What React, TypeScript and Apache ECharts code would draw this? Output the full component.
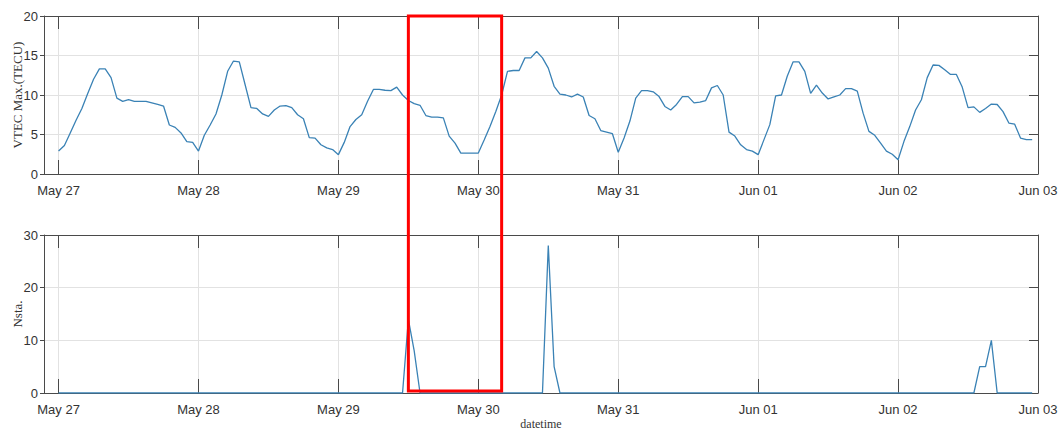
import React, { useEffect, useRef } from "react";
import * as echarts from "echarts";

// Tick labels (one per day, midnight)
const tickLabels = ["May 27", "May 28", "May 29", "May 30", "May 31", "Jun 01", "Jun 02", "Jun 03"];
const hoursPerDay = 24;
const axisStartHour = -2.5;
const axisEndHour = 168;

// Hourly maximum VTEC (TECU), starting May 27 00:00
const vtecMax = [
  2.9, 3.6, 5.2, 6.8, 8.3, 10.2, 12.0, 13.3, 13.3, 12.2, 9.6, 9.2, 9.4, 9.2, 9.2, 9.2, 9.0, 8.8, 8.6, 6.2, 5.9, 5.2, 4.1, 4.0,
  2.9, 4.9, 6.2, 7.6, 10.0, 13.0, 14.3, 14.2, 11.3, 8.4, 8.3, 7.6, 7.3, 8.1, 8.6, 8.65, 8.4, 7.5, 7.0, 4.6, 4.55, 3.7, 3.3, 3.1,
  2.45, 4.0, 6.0, 6.9, 7.5, 9.2, 10.7, 10.7, 10.6, 10.55, 11.0, 10.0, 9.3, 8.9, 8.7, 7.4, 7.2, 7.2, 7.1, 4.8, 3.9, 2.65, 2.65, 2.65,
  2.65, 4.3, 6.0, 7.9, 10.0, 13.0, 13.1, 13.1, 14.7, 14.7, 15.5, 14.7, 13.4, 11.1, 10.1, 10.0, 9.75, 10.1, 9.75, 7.4, 7.0, 5.5, 5.3, 5.1,
  2.75, 4.55, 6.7, 9.6, 10.55, 10.55, 10.4, 9.8, 8.55, 8.1, 8.8, 9.8, 9.8, 9.0, 9.1, 9.3, 10.9, 11.2, 10.0, 5.3, 4.8, 3.7, 3.1, 2.9,
  2.45, 4.35, 6.25, 9.9, 10.0, 12.4, 14.2, 14.2, 13.0, 10.2, 11.25, 10.25, 9.5, 9.75, 10.0, 10.8, 10.8, 10.5, 7.7, 5.4, 4.9, 3.9, 2.9, 2.5,
  1.8, 4.1, 6.0, 8.1, 9.4, 12.2, 13.8, 13.75, 13.2, 12.6, 12.6, 11.0, 8.4, 8.5, 7.8, 8.3, 8.85, 8.8, 7.9, 6.45, 6.3, 4.55, 4.35, 4.35,
];

// Hourly number of stations
const nsta = [
  0, 0, 0, 0, 0, 0, 0, 0, 0, 0, 0, 0, 0, 0, 0, 0, 0, 0, 0, 0, 0, 0, 0, 0,
  0, 0, 0, 0, 0, 0, 0, 0, 0, 0, 0, 0, 0, 0, 0, 0, 0, 0, 0, 0, 0, 0, 0, 0,
  0, 0, 0, 0, 0, 0, 0, 0, 0, 0, 0, 0, 14, 8, 0, 0, 0, 0, 0, 0, 0, 0, 0, 0,
  0, 0, 0, 0, 0, 0, 0, 0, 0, 0, 0, 0, 28, 5, 0, 0, 0, 0, 0, 0, 0, 0, 0, 0,
  0, 0, 0, 0, 0, 0, 0, 0, 0, 0, 0, 0, 0, 0, 0, 0, 0, 0, 0, 0, 0, 0, 0, 0,
  0, 0, 0, 0, 0, 0, 0, 0, 0, 0, 0, 0, 0, 0, 0, 0, 0, 0, 0, 0, 0, 0, 0, 0,
  0, 0, 0, 0, 0, 0, 0, 0, 0, 0, 0, 0, 0, 0, 5, 5, 10, 0, 0, 0, 0, 0, 0, 0,
];

// Highlighted window (hours from May 27 00:00)
const highlightStartHour = 60;
const highlightEndHour = 76;

const axisColor = "#4a4a4a";
const gridColor = "#e2e2e2";
const lineColor = "#3a82b5";
const labelColor = "#333333";
const sansFont = "'Liberation Sans', Arial, sans-serif";
const serifFont = "'Liberation Serif', 'Times New Roman', serif";

const tickValues = tickLabels.map((_, i) => i * hoursPerDay);

function xAxesFor(gridIndex: number, name?: string) {
  return [
    {
      type: "value",
      gridIndex,
      min: axisStartHour,
      max: axisEndHour,
      position: "bottom",
      name: name || "",
      nameLocation: "middle",
      nameGap: 25,
      nameMoveOverlap: false,
      nameTextStyle: { fontFamily: serifFont, fontSize: 12, color: labelColor },
      axisLine: { show: true, onZero: false, lineStyle: { color: axisColor, width: 1 } },
      axisTick: { show: true, inside: true, length: 14, customValues: tickValues, lineStyle: { color: axisColor } },
      axisLabel: {
        show: true,
        customValues: tickValues,
        formatter: (v: number) => tickLabels[Math.round(v / hoursPerDay)] || "",
        margin: 10,
        color: labelColor,
        fontSize: 13,
        fontFamily: sansFont,
      },
      splitLine: { show: true, lineStyle: { color: gridColor, width: 1 } },
    },
    {
      type: "value",
      gridIndex,
      min: axisStartHour,
      max: axisEndHour,
      position: "top",
      axisLine: { show: true, onZero: false, lineStyle: { color: axisColor, width: 1 } },
      axisTick: { show: true, inside: true, length: 13, customValues: tickValues, lineStyle: { color: axisColor } },
      axisLabel: { show: false },
      splitLine: { show: false },
    },
  ];
}

function yAxesFor(gridIndex: number, max: number, interval: number, name: string) {
  return [
    {
      type: "value",
      gridIndex,
      min: 0,
      max,
      interval,
      position: "left",
      name,
      nameLocation: "middle",
      nameGap: 20,
      nameMoveOverlap: false,
      nameTextStyle: { fontFamily: serifFont, fontSize: 13, color: labelColor },
      axisLine: { show: true, onZero: false, lineStyle: { color: axisColor, width: 1 } },
      axisTick: { show: true, inside: false, length: 4, lineStyle: { color: axisColor } },
      axisLabel: { margin: 6, color: labelColor, fontSize: 13, fontFamily: sansFont },
      splitLine: { show: true, lineStyle: { color: gridColor, width: 1 } },
    },
    {
      type: "value",
      gridIndex,
      min: 0,
      max,
      interval,
      position: "right",
      axisLine: { show: true, onZero: false, lineStyle: { color: axisColor, width: 1 } },
      axisTick: { show: true, inside: true, length: 9, lineStyle: { color: axisColor } },
      axisLabel: { show: false },
      splitLine: { show: false },
    },
  ];
}

export default function App() {
  const ref = useRef<HTMLDivElement>(null);

  useEffect(() => {
    if (!ref.current) return;
    const chart = echarts.init(ref.current, null, { renderer: "svg" });
    chart.setOption({
      animation: false,
      backgroundColor: "#ffffff",
      grid: [
        { left: 44, top: 16, width: 994, height: 158, containLabel: false, outerBoundsMode: "none" },
        { left: 44, top: 235, width: 994, height: 158, containLabel: false, outerBoundsMode: "none" },
      ],
      xAxis: [...xAxesFor(0), ...xAxesFor(1, "datetime")],
      yAxis: [...yAxesFor(0, 20, 5, "VTEC Max.(TECU)"), ...yAxesFor(1, 30, 10, "Nsta.")],
      series: [
        {
          type: "line",
          xAxisIndex: 0,
          yAxisIndex: 0,
          data: vtecMax.map((v, i) => [i, v]),
          showSymbol: false,
          lineStyle: { color: lineColor, width: 1.3 },
          z: 5,
        },
        {
          type: "line",
          xAxisIndex: 2,
          yAxisIndex: 2,
          data: nsta.map((v, i) => [i, v]),
          showSymbol: false,
          lineStyle: { color: lineColor, width: 1.3 },
          z: 5,
        },
      ],
    });

    const x0 = chart.convertToPixel({ xAxisIndex: 0 }, highlightStartHour) as number;
    const x1 = chart.convertToPixel({ xAxisIndex: 0 }, highlightEndHour) as number;
    const yTop = chart.convertToPixel({ yAxisIndex: 0 }, 20) as number;
    const yBottom = (chart.convertToPixel({ yAxisIndex: 2 }, 0) as number) - 2;
    chart.setOption({
      graphic: [
        {
          type: "rect",
          z: 100,
          shape: { x: x0, y: yTop, width: x1 - x0, height: yBottom - yTop },
          style: { fill: "none", stroke: "#ff0000", lineWidth: 3 },
        },
      ],
    });

    return () => chart.dispose();
  }, []);

  return (
    <div
      ref={ref}
      style={{ position: "fixed", left: 0, top: 0, width: 1059, height: 433, background: "#fff" }}
    />
  );
}
